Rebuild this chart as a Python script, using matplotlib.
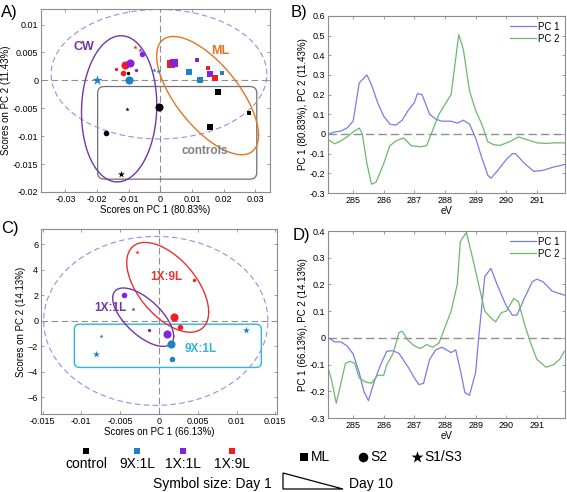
import numpy as np
import matplotlib.pyplot as plt
from matplotlib.patches import FancyBboxPatch, Polygon

plt.rcParams['font.family'] = ['Liberation Sans', 'DejaVu Sans']

# ---- colours per group
grp_col = {'control': '#000000', '9X:1L': '#1f80c6', '1X:1L': '#8223e0', '1X:9L': '#f41c1c'}
# marker per sampling site, size per day
site_mk = {'ML': 's', 'S2': 'o', 'S1/S3': '*'}
day_size = {1: 34, 5: 16, 10: 6}
mk_scale = {'s': 0.85, 'o': 1.0, '*': 1.7}

# ---- panel A scores (PC1, PC2)
a_x = [-0.020, -0.010, -0.0113, -0.0097, -0.0118, -0.0139, -0.0102, -0.0076, -0.0058, -0.0063,
       -0.0079, -0.0019, -0.0008, -0.0005, -0.0170, -0.0105, -0.0124,
       0.0034, 0.0042, 0.0092, 0.0116, 0.0126, 0.0150, 0.0158, 0.0174, 0.0195, 0.0184, 0.0158, 0.0282]
a_y = [0.0, 0.0, 0.0027, 0.0032, 0.0013, 0.0020, 0.0013, 0.0019, 0.0047, 0.0055,
       0.0060, 0.0019, 0.0016, -0.0047, -0.0095, -0.0052, -0.0168,
       0.0029, 0.0032, 0.0015, 0.0036, 0.0, 0.0022, 0.0012, 0.0004, 0.0014, -0.0021, -0.0084, -0.0058]
a_grp = ['9X:1L', '9X:1L', '1X:9L', '1X:1L', '1X:9L', '1X:9L', 'control', '1X:1L', '1X:1L', '1X:1L',
         '1X:9L', '9X:1L', '9X:1L', 'control', 'control', 'control', 'control',
         '1X:9L', '1X:1L', '9X:1L', '1X:1L', '9X:1L', '1X:9L', '1X:1L', '1X:9L', '9X:1L', 'control', 'control', 'control']
a_site = ['S1/S3', 'S2', 'S2', 'S2', 'S2', 'S2', 'S2', 'S2', 'S2', 'S1/S3',
          'S1/S3', 'S1/S3', 'S1/S3', 'S2', 'S2', 'S1/S3', 'S1/S3',
          'ML', 'ML', 'ML', 'ML', 'ML', 'ML', 'ML', 'ML', 'ML', 'ML', 'ML', 'ML']
a_day = [1, 1, 1, 1, 5, 10, 10, 10, 5, 10,
         10, 10, 10, 1, 5, 10, 5,
         1, 1, 5, 10, 5, 10, 5, 5, 10, 5, 5, 10]

# ---- panel C scores
c_x = [-0.0028, 0.0045, 0.0019, 0.0027, -0.0045, -0.0034, -0.0013, 0.0010, 0.0015, 0.0017, 0.0112, -0.0075, -0.0081]
c_y = [5.42, 3.18, 0.31, -0.50, 2.03, 0.94, -0.70, -0.99, -1.83, -3.02, -0.70, -1.20, -2.58]
c_grp = ['1X:9L', '1X:9L', '1X:9L', '1X:9L', '1X:1L', '1X:1L', '1X:1L', '1X:1L', '9X:1L', '9X:1L', '9X:1L', '9X:1L', '9X:1L']
c_site = ['S1/S3', 'S2', 'S2', 'S2', 'S2', 'S1/S3', 'S2', 'S2', 'S2', 'S2', 'S1/S3', 'S1/S3', 'S1/S3']
c_day = [10, 10, 1, 5, 5, 10, 10, 1, 1, 5, 5, 10, 5]

# ---- panel B loadings
b_ev1 = [284.2, 284.4, 284.6, 284.8, 285.0, 285.2, 285.45, 285.6, 285.8, 286.0, 286.2, 286.4, 286.6, 286.8, 287.0,
         287.1, 287.25, 287.5, 287.7, 287.9, 288.2, 288.4, 288.6, 288.8, 289.0, 289.2, 289.4, 289.5, 289.7, 290.0,
         290.2, 290.3, 290.6, 290.9, 291.2, 291.5, 291.9]
b_pc1 = [0.0, 0.01, 0.015, 0.03, 0.065, 0.26, 0.30, 0.25, 0.16, 0.09, 0.05, 0.045, 0.07, 0.12, 0.16,
         0.205, 0.20, 0.10, 0.075, 0.065, 0.065, 0.055, 0.07, 0.05, -0.02, -0.12, -0.21, -0.225, -0.19, -0.13,
         -0.10, -0.10, -0.15, -0.19, -0.185, -0.17, -0.155]
b_ev2 = [284.2, 284.4, 284.6, 284.8, 285.0, 285.2, 285.3, 285.45, 285.6, 285.75, 286.0, 286.2, 286.4, 286.65, 286.9,
         287.2, 287.4, 287.6, 287.8, 288.0, 288.2, 288.45, 288.6, 288.8, 289.0, 289.2, 289.4, 289.6, 289.8, 290.1,
         290.4, 290.7, 291.0, 291.3, 291.6, 291.9]
b_pc2 = [-0.03, -0.05, -0.035, -0.015, 0.01, 0.03, 0.0, -0.15, -0.255, -0.245, -0.15, -0.06, -0.035, -0.02, -0.06,
         -0.065, -0.06, 0.02, 0.10, 0.15, 0.20, 0.505, 0.43, 0.22, 0.12, 0.05, -0.04, -0.055, -0.058, -0.04,
         -0.015, -0.03, -0.045, -0.048, -0.045, -0.045]

# ---- panel D loadings
d_ev1 = [284.2, 284.4, 284.6, 284.8, 285.0, 285.2, 285.35, 285.5, 285.7, 285.9, 286.1, 286.3, 286.5, 286.8, 287.0,
         287.15, 287.3, 287.5, 287.7, 287.9, 288.2, 288.35, 288.5, 288.65, 288.8, 289.0, 289.1, 289.3, 289.5, 289.7,
         290.0, 290.2, 290.35, 290.6, 290.85, 291.0, 291.2, 291.5, 291.9]
d_pc1 = [0.0, -0.015, -0.015, -0.03, -0.06, -0.13, -0.20, -0.235, -0.16, -0.10, -0.05, -0.048, -0.058, -0.11, -0.15,
         -0.175, -0.17, -0.08, -0.045, -0.035, -0.055, -0.045, -0.12, -0.205, -0.215, -0.13, 0.0, 0.23, 0.26, 0.20,
         0.12, 0.085, 0.085, 0.15, 0.21, 0.22, 0.21, 0.175, 0.16]
d_ev2 = [284.2, 284.3, 284.45, 284.6, 284.75, 284.9, 285.05, 285.2, 285.4, 285.6, 285.8, 286.0, 286.1, 286.3, 286.5,
         286.6, 286.8, 287.0, 287.2, 287.4, 287.6, 287.8, 288.0, 288.2, 288.4, 288.5, 288.7, 288.9, 289.1, 289.3,
         289.5, 289.65, 289.85, 290.0, 290.25, 290.4, 290.6, 290.8, 291.0, 291.3, 291.55, 291.75, 291.9]
d_pc2 = [-0.12, -0.16, -0.245, -0.17, -0.095, -0.088, -0.095, -0.15, -0.165, -0.17, -0.14, -0.14, -0.10, -0.06, 0.02,
         0.025, -0.01, -0.03, -0.04, -0.025, -0.035, -0.02, 0.04, 0.10, 0.20, 0.36, 0.395, 0.30, 0.20, 0.10,
         0.075, 0.06, 0.095, 0.10, 0.148, 0.135, 0.05, -0.02, -0.08, -0.11, -0.10, -0.08, -0.05]

FRAME = '#8c8c8c'


def style(ax):
    for s in ax.spines.values():
        s.set_color(FRAME)
        s.set_linewidth(0.8)
    ax.tick_params(direction='in', top=True, right=True, length=2.5, width=0.6,
                   color=FRAME, labelsize=6.5, pad=2)


def ellipse(ax, cx, cy, hx, hy, rho, **kw):
    t = np.linspace(0, 2 * np.pi, 300)
    phi = np.arccos(rho)
    ax.plot(cx + hx * np.cos(t), cy + hy * np.cos(t - phi), **kw)


def scores(ax, xs, ys, grps, sites, days):
    for x, y, g, st, d in zip(xs, ys, grps, sites, days):
        m = site_mk[st]
        ax.scatter(x, y, s=day_size[d] * mk_scale[m], c=grp_col[g], marker=m, linewidths=0, zorder=3)


fig = plt.figure(figsize=(5.67, 4.92), dpi=100)

# ---------------- A
axA = fig.add_axes([0.0723, 0.6098, 0.404, 0.372])
style(axA)
axA.axhline(0, color='#909090', ls=(0, (6, 3)), lw=0.8, zorder=1)
axA.axvline(0, color='#909090', ls=(0, (6, 3)), lw=0.8, zorder=1)
ellipse(axA, -0.0004, 0.0011, 0.0341, 0.0116, 0.0, color='#8f8ff0', ls=(0, (5, 3)), lw=0.8)
ellipse(axA, -0.0130, -0.0051, 0.0119, 0.0131, 0.05, color='#7236a8', lw=1.0)
ellipse(axA, 0.01495, -0.00273, 0.0161, 0.0106, -0.67, color='#e2761f', lw=1.0)
axA.add_patch(FancyBboxPatch((-0.0198, -0.0177), 0.0503, 0.0166,
                             boxstyle='round,pad=0,rounding_size=0.0021', mutation_aspect=0.576,
                             fill=False, ec='#707070', lw=0.9))
scores(axA, a_x, a_y, a_grp, a_site, a_day)
axA.text(-0.0242, 0.0060, 'CW', color='#7236a8', fontsize=9, fontweight='bold', ha='center', va='center')
axA.text(0.0190, 0.0052, 'ML', color='#e2761f', fontsize=9, fontweight='bold', ha='center', va='center')
axA.text(0.0139, -0.0127, 'controls', color='#808080', fontsize=8.5, fontweight='bold', ha='center', va='center')
axA.set_xlim(-0.0377, 0.0347)
axA.set_ylim(-0.020, 0.0128)
axA.set_xticks([-0.03, -0.02, -0.01, 0, 0.01, 0.02, 0.03])
axA.set_xticklabels(['-0.03', '-0.02', '-0.01', '0', '0.01', '0.02', '0.03'])
axA.set_yticks([-0.02, -0.015, -0.01, -0.005, 0, 0.005, 0.01])
axA.set_yticklabels(['-0.02', '-0.015', '-0.01', '-0.005', '0', '0.005', '0.01'])
axA.set_xlabel('Scores on PC 1 (80.83%)', fontsize=7, labelpad=1)
axA.set_ylabel('Scores on PC 2 (11.43%)', fontsize=7, labelpad=1)

# ---------------- B
axB = fig.add_axes([0.5785, 0.6077, 0.418, 0.36])
style(axB)
axB.axhline(0, color='#909090', ls=(0, (6, 3)), lw=1.0)
axB.plot(b_ev1, b_pc1, color='#7b7be8', lw=0.9, label='PC 1')
axB.plot(b_ev2, b_pc2, color='#6cb86c', lw=0.9, label='PC 2')
axB.set_xlim(284.18, 291.92)
axB.set_ylim(-0.3, 0.6)
axB.set_xticks(range(285, 292))
axB.set_yticks(np.arange(-0.3, 0.61, 0.1))
axB.set_yticklabels(['-0.3', '-0.2', '-0.1', '0', '0.1', '0.2', '0.3', '0.4', '0.5', '0.6'])
axB.set_xlabel('eV', fontsize=7, labelpad=1)
axB.set_ylabel('PC 1 (80.83%), PC 2 (11.43%)', fontsize=7, labelpad=1)
axB.legend(loc='upper right', frameon=False, fontsize=7, handlelength=2.6, handletextpad=0.2,
           borderaxespad=0.2, labelspacing=0.2)

# ---------------- C
axC = fig.add_axes([0.0723, 0.1585, 0.416, 0.376])
style(axC)
axC.axhline(0, color='#909090', ls=(0, (6, 3)), lw=0.8, zorder=1)
axC.axvline(0, color='#909090', ls=(0, (6, 3)), lw=0.8, zorder=1)
ellipse(axC, -0.0004, 0.0, 0.01445, 6.62, 0.0, color='#8f8ff0', ls=(0, (5, 3)), lw=0.8)
ellipse(axC, 0.00113, 2.63, 0.00528, 3.52, -0.55, color='#e83232', lw=1.0)
ellipse(axC, -0.00203, 0.29, 0.00393, 2.29, -0.65, color='#7236a8', lw=1.0)
axC.add_patch(FancyBboxPatch((-0.0109, -3.65), 0.0241, 3.39,
                             boxstyle='round,pad=0,rounding_size=0.0007', mutation_aspect=577,
                             fill=False, ec='#2fb3e3', lw=1.0))
scores(axC, c_x, c_y, c_grp, c_site, c_day)
axC.text(0.0009, 3.42, '1X:9L', color='#e83232', fontsize=8.5, fontweight='bold', ha='center', va='center')
axC.text(-0.0062, 1.04, '1X:1L', color='#7236a8', fontsize=8.5, fontweight='bold', ha='center', va='center')
axC.text(0.0054, -2.22, '9X:1L', color='#2fb3e3', fontsize=8.5, fontweight='bold', ha='center', va='center')
axC.set_xlim(-0.0152, 0.0152)
axC.set_ylim(-7.3, 7.2)
axC.set_xticks([-0.015, -0.01, -0.005, 0, 0.005, 0.01, 0.015])
axC.set_xticklabels(['-0.015', '-0.01', '-0.005', '0', '0.005', '0.01', '0.015'])
axC.set_yticks([-6, -4, -2, 0, 2, 4, 6])
axC.set_xlabel('Scores on PC 1 (66.13%)', fontsize=7, labelpad=1)
axC.set_ylabel('Scores on PC 2 (14.13%)', fontsize=7, labelpad=1)

# ---------------- D
axD = fig.add_axes([0.5785, 0.1504, 0.418, 0.38])
style(axD)
axD.axhline(0, color='#909090', ls=(0, (6, 3)), lw=1.0)
axD.plot(d_ev1, d_pc1, color='#7b7be8', lw=0.9, label='PC 1')
axD.plot(d_ev2, d_pc2, color='#6cb86c', lw=0.9, label='PC 2')
axD.set_xlim(284.18, 291.92)
axD.set_ylim(-0.3, 0.4)
axD.set_xticks(range(285, 292))
axD.set_yticks(np.arange(-0.3, 0.41, 0.1))
axD.set_yticklabels(['-0.3', '-0.2', '-0.1', '0', '0.1', '0.2', '0.3', '0.4'])
axD.set_xlabel('eV', fontsize=7, labelpad=1)
axD.set_ylabel('PC 1 (66.13%), PC 2 (14.13%)', fontsize=7, labelpad=1)
axD.legend(loc='upper right', frameon=False, fontsize=7, handlelength=2.6, handletextpad=0.2,
           borderaxespad=0.2, labelspacing=0.2)

# panel letters
fig.text(0.002, 0.975, 'A)', fontsize=12, va='center')
fig.text(0.513, 0.975, 'B)', fontsize=12, va='center')
fig.text(0.002, 0.535, 'C)', fontsize=12, va='center')
fig.text(0.516, 0.522, 'D)', fontsize=12, va='center')

# ---------------- key at the bottom (pixel coordinates)
key = fig.add_axes([0, 0, 1, 1])
key.set_xlim(0, 567)
key.set_ylim(492, 0)
key.axis('off')
leg_groups = ['control', '9X:1L', '1X:1L', '1X:9L']
leg_x = [86, 137, 183, 232]
for g, x in zip(leg_groups, leg_x):
    key.scatter(x, 451, marker='s', s=22, c=grp_col[g], linewidths=0)
    key.text(x, 464, g, fontsize=10, ha='center', va='center')
for lab, x in zip(['ML', 'S2', 'S1/S3'], [304, 363, 417]):
    key.scatter(x, 457, marker=site_mk[lab], s=48 * mk_scale[site_mk[lab]], c='k', linewidths=0)
    key.text(x + 7, 457, lab, fontsize=10, ha='left', va='center')
key.text(272, 484, 'Symbol size: Day 1', fontsize=10, ha='right', va='center')
key.add_patch(Polygon([[283, 473], [283, 489], [343, 489]], closed=True, fill=False, ec='k', lw=0.9))
key.text(349, 484, 'Day 10', fontsize=10, ha='left', va='center')

fig.savefig('out.png', dpi=100)
